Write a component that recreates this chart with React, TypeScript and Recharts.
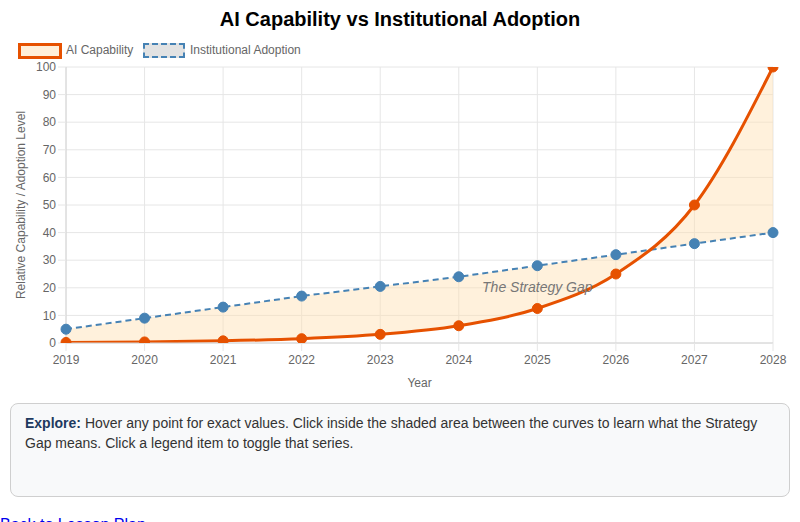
import React from "react";
import {
  ComposedChart,
  Area,
  Line,
  XAxis,
  YAxis,
  CartesianGrid,
  ReferenceDot,
  Label,
} from "recharts";

// Exponential capability curve vs. a roughly linear adoption line, with the
// gap between them shaded.
const years = [2019, 2020, 2021, 2022, 2023, 2024, 2025, 2026, 2027, 2028];
const aiCapability = [0.2, 0.39, 0.78, 1.56, 3.13, 6.25, 12.5, 25, 50, 100];
const institutionalAdoption = [5, 9, 13, 17, 20.5, 24, 28, 32, 36, 40];
const yTicks = [0, 10, 20, 30, 40, 50, 60, 70, 80, 90, 100];
const gapLabel = { year: 2025, level: 20.3, text: "The Strategy Gap" };

const ORANGE = "#e65100";
const BLUE = "#4682b4";
const GAP_FILL = "#ffe0b2";

const data = years.map((year, i) => ({
  year,
  ai: aiCapability[i],
  adoption: institutionalAdoption[i],
  gap: [aiCapability[i], institutionalAdoption[i]],
}));

const FONT = '"Liberation Sans", Arial, Helvetica, sans-serif';

function YTitle({ viewBox }: any) {
  const cx = 21;
  const cy = viewBox.y + viewBox.height / 2;
  return (
    <text
      x={cx}
      y={cy}
      transform={`rotate(-90 ${cx} ${cy})`}
      textAnchor="middle"
      dominantBaseline="central"
      fill="#666"
      fontSize={12}
    >
      Relative Capability / Adoption Level
    </text>
  );
}

function XTitle({ viewBox }: any) {
  return (
    <text
      x={viewBox.x + viewBox.width / 2}
      y={viewBox.y + 40}
      textAnchor="middle"
      dominantBaseline="central"
      fill="#666"
      fontSize={12}
    >
      Year
    </text>
  );
}

function LegendRow() {
  const item = { position: "absolute" as const, top: 43, fontSize: 12, color: "#666", lineHeight: "14px" };
  return (
    <>
      <div
        style={{
          position: "absolute",
          left: 18,
          top: 43,
          width: 38,
          height: 10,
          border: `3px solid ${ORANGE}`,
          background: "#ffefd9",
        }}
      />
      <div style={{ ...item, left: 66 }}>AI Capability</div>
      <div
        style={{
          position: "absolute",
          left: 143,
          top: 43,
          width: 38,
          height: 11,
          border: `2px dashed ${BLUE}`,
          background: "#e2e2e2",
        }}
      />
      <div style={{ ...item, left: 190 }}>Institutional Adoption</div>
    </>
  );
}

export default function App() {
  return (
    <div
      style={{
        position: "absolute",
        top: 0,
        left: 0,
        width: 800,
        height: 522,
        overflow: "hidden",
        fontFamily: FONT,
        background: "#fff",
      }}
    >
      <div
        style={{
          position: "absolute",
          top: 7,
          left: 0,
          width: 800,
          textAlign: "center",
          fontSize: 20,
          fontWeight: "bold",
          color: "#000",
          lineHeight: "24px",
        }}
      >
        AI Capability vs Institutional Adoption
      </div>
      <LegendRow />

      <ComposedChart
        width={800}
        height={395}
        data={data}
        margin={{ top: 67, right: 27, bottom: 12, left: 0 }}
        style={{ position: "absolute", top: 0, left: 0 }}
      >
        <CartesianGrid stroke="#e6e6e6" />
        <XAxis
          dataKey="year"
          type="number"
          domain={[2019, 2028]}
          ticks={years}
          height={40}
          tick={{ fill: "#666", fontSize: 12 }}
          tickSize={8}
          tickMargin={4}
          tickLine={{ stroke: "#e6e6e6" }}
          axisLine={{ stroke: "#d4d4d4" }}
        >
          <Label content={<XTitle />} />
        </XAxis>
        <YAxis
          type="number"
          domain={[0, 100]}
          ticks={yTicks}
          allowDataOverflow
          width={66}
          tick={{ fill: "#666", fontSize: 12 }}
          tickSize={8}
          tickMargin={2}
          tickLine={{ stroke: "#e6e6e6" }}
          axisLine={{ stroke: "#d4d4d4" }}
        >
          <Label content={<YTitle />} />
        </YAxis>
        <Line
          type="linear"
          dataKey="adoption"
          stroke={BLUE}
          strokeWidth={2}
          strokeDasharray="6 4"
          dot={{ r: 5, fill: BLUE, stroke: BLUE, strokeWidth: 1, strokeDasharray: "" }}
          activeDot={false}
          isAnimationActive={false}
        />
        {/* gap band sits over the adoption dots, under the capability line */}
        <Area
          type="monotone"
          dataKey="gap"
          stroke="none"
          fill={GAP_FILL}
          fillOpacity={0.45}
          isAnimationActive={false}
        />
        <Line
          type="monotone"
          dataKey="ai"
          stroke={ORANGE}
          strokeWidth={3}
          dot={{ r: 5, fill: ORANGE, stroke: ORANGE, strokeWidth: 1 }}
          activeDot={false}
          isAnimationActive={false}
        />
        <ReferenceDot x={gapLabel.year} y={gapLabel.level} r={0} fill="none" stroke="none">
          <Label
            value={gapLabel.text}
            position="center"
            fill="#777"
            fontSize={14}
            fontStyle="italic"
          />
        </ReferenceDot>
      </ComposedChart>

      <div
        style={{
          position: "absolute",
          left: 10,
          top: 403,
          width: 750,
          height: 74,
          padding: "9px 14px 9px 14px",
          border: "1px solid #cfcfcf",
          borderRadius: 8,
          background: "#f8f9fa",
          fontSize: 14,
          lineHeight: "20px",
          color: "#333",
        }}
      >
        <strong style={{ color: "#1e3a5f" }}>Explore:</strong> Hover any point for exact values.
        Click inside the shaded area between the curves to learn what the Strategy Gap means.
        Click a legend item to toggle that series.
      </div>

      <a
        href="#"
        style={{
          position: "absolute",
          left: 0,
          top: 516,
          fontSize: 16,
          lineHeight: "18px",
          color: "#0000ee",
          textDecoration: "underline",
        }}
      >
        Back to Lesson Plan
      </a>
    </div>
  );
}
